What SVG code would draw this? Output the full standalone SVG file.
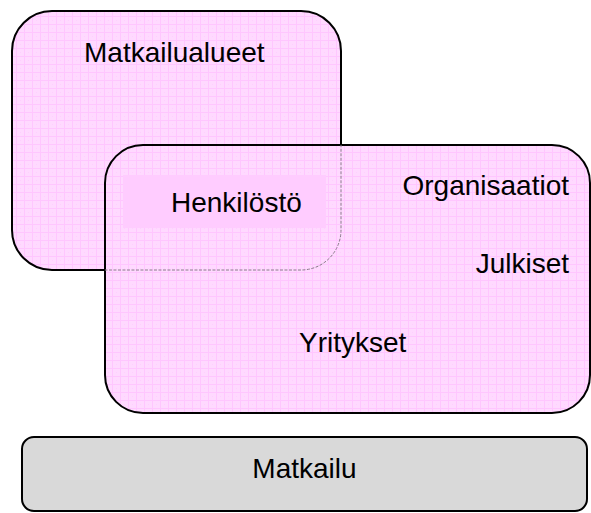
<svg xmlns="http://www.w3.org/2000/svg" width="591" height="513" viewBox="0 0 591 513">
<style>
.lbl{font-family:"Liberation Sans",Arial,sans-serif;font-size:28px;fill:#000}
.pink{fill:url(#grid);stroke:#000;stroke-width:2}
</style>
<defs>
<pattern id="grid" width="8" height="8" patternUnits="userSpaceOnUse">
<rect width="8" height="8" fill="#FFD9FF"/>
<path d="M0 0.5H8M0.5 0V8" stroke="#FFC6FF" stroke-width="1"/>
<rect x="4" y="4" width="1" height="1" fill="#FFCFFF"/>
</pattern>
<clipPath id="clip2"><rect x="105" y="145" width="485" height="268" rx="38"/></clipPath>
</defs>
<g id="matkailualueet">
<rect class="pink" x="12" y="11" width="329" height="259" rx="40"/>
<text class="lbl" x="84" y="62">Matkailualueet</text>
</g>
<g id="organisaatiot">
<rect class="pink" x="105" y="145" width="485" height="268" rx="38"/>
<rect x="12" y="11" width="329" height="259" rx="40" fill="none" stroke="#8a7a8a" stroke-width="1" stroke-dasharray="3 1.5" clip-path="url(#clip2)"/>
<text class="lbl" x="569" y="195" text-anchor="end">Organisaatiot</text>
<text class="lbl" x="569" y="273" text-anchor="end">Julkiset</text>
<text class="lbl" x="299" y="352">Yritykset</text>
</g>
<g id="henkilosto">
<rect x="123" y="175" width="203" height="53" fill="#FFCCFF"/>
<text class="lbl" x="171" y="212">Henkilöstö</text>
</g>
<g id="matkailu">
<rect x="22" y="437" width="565" height="74" rx="12" fill="#D9D9D9" stroke="#000" stroke-width="2"/>
<text class="lbl" x="304.5" y="478" text-anchor="middle">Matkailu</text>
</g>
<g id="connectors"/>
</svg>
